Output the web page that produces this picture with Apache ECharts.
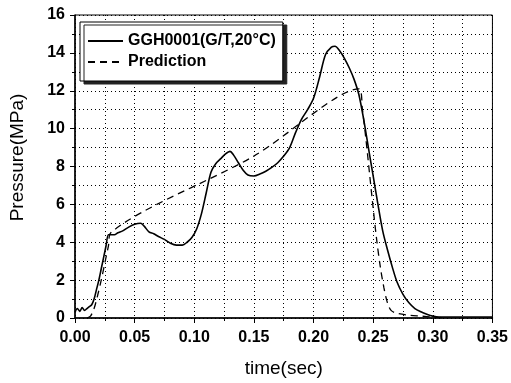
<!DOCTYPE html>
<html>
<head>
<meta charset="utf-8">
<script src="https://cdn.jsdelivr.net/npm/echarts@6/dist/echarts.min.js"></script>
<style>
  html, body { margin: 0; padding: 0; background: #fff; }
  #main { width: 511px; height: 383px; }
</style>
</head>
<body>
<div id="main"></div>
<script>
// measured pressure trace (GGH0001)
var measTime = [0, 0.002, 0.004, 0.006, 0.008, 0.010, 0.012, 0.014, 0.016, 0.018, 0.020, 0.022, 0.024, 0.026, 0.028,
  0.030, 0.033, 0.036, 0.040, 0.045, 0.050, 0.055, 0.058, 0.062, 0.066, 0.070, 0.075, 0.080, 0.085, 0.090,
  0.094, 0.098, 0.102, 0.106, 0.110, 0.114, 0.118, 0.122, 0.126, 0.130, 0.133, 0.137, 0.141, 0.145, 0.150,
  0.155, 0.160, 0.165, 0.170, 0.175, 0.180, 0.185, 0.190, 0.195, 0.200, 0.205, 0.210, 0.215, 0.218, 0.222,
  0.226, 0.230, 0.234, 0.238, 0.242, 0.246, 0.250, 0.254, 0.258, 0.262, 0.266, 0.270, 0.275, 0.280, 0.285,
  0.290, 0.295, 0.300, 0.305, 0.310, 0.320, 0.330, 0.340, 0.350];
var measPressure = [0.3, 0.5, 0.35, 0.55, 0.4, 0.5, 0.6, 0.7, 1.0, 1.5, 2.0, 2.6, 3.2, 3.8, 4.4,
  4.4, 4.4, 4.5, 4.6, 4.8, 4.95, 5.0, 4.85, 4.55, 4.45, 4.3, 4.15, 3.95, 3.85, 3.85,
  4.0, 4.25, 4.7, 5.5, 6.6, 7.7, 8.15, 8.4, 8.65, 8.8, 8.6, 8.2, 7.8, 7.55, 7.5,
  7.6, 7.75, 7.95, 8.2, 8.55, 9.0, 9.8, 10.5, 11.0, 11.6, 12.7, 13.9, 14.3, 14.35, 14.1,
  13.7, 13.2, 12.6, 11.8, 10.5, 9.0, 7.5, 6.0, 4.6, 3.6, 2.7, 1.9, 1.25, 0.8, 0.5,
  0.33, 0.2, 0.1, 0.05, 0.05, 0.05, 0.05, 0.05, 0.05];

// prediction
var predTime = [0.010, 0.013, 0.016, 0.019, 0.022, 0.025, 0.028, 0.030, 0.150, 0.238,
  0.241, 0.244, 0.247, 0.250, 0.253, 0.256, 0.259, 0.262, 0.265, 0.270, 0.280, 0.290, 0.300, 0.310];
var predPressure = [0, 0.1, 0.5, 1.2, 2.0, 2.9, 3.8, 4.5, 8.55, 12.1,
  11.0, 9.4, 7.6, 5.8, 4.1, 2.7, 1.6, 0.8, 0.4, 0.25, 0.15, 0.1, 0.05, 0];

var xTicks = { min: 0, max: 0.35, interval: 0.05 };
var yTicks = { min: 0, max: 16, interval: 2 };

function zip(a, b) {
  return a.map(function (v, i) { return [v, b[i]]; });
}

var chartDom = document.getElementById('main');
var myChart = echarts.init(chartDom);
var option;

var fontFam = 'Liberation Sans, Arial';
var labelFont = { color: '#000', fontFamily: fontFam, fontWeight: 'bold', fontSize: 16 };
var gridLine = { show: true, lineStyle: { color: '#000', type: [1, 3], width: 1 } };

option = {
  animation: false,
  backgroundColor: '#fff',
  grid: {
    left: 74, right: 16, top: 15, bottom: 61,
    show: true, borderColor: '#000', borderWidth: 1
  },
  legend: {
    left: 80, top: 22,
    orient: 'vertical',
    padding: [11, 7, 11, 7],
    itemGap: 5,
    itemWidth: 35,
    itemHeight: 14,
    backgroundColor: '#fff',
    borderColor: '#000',
    borderWidth: 1,
    shadowColor: '#222',
    shadowOffsetX: 4,
    shadowOffsetY: 3,
    shadowBlur: 0,
    itemStyle: { opacity: 0 },
    textStyle: { color: '#000', fontFamily: fontFam, fontWeight: 'bold', fontSize: 16 }
  },
  xAxis: {
    type: 'value',
    min: xTicks.min, max: xTicks.max, interval: xTicks.interval,
    name: 'time(sec)',
    nameLocation: 'middle',
    nameGap: 41,
    nameTextStyle: { color: '#000', fontFamily: fontFam, fontSize: 19 },
    axisLine: { lineStyle: { color: '#000', width: 1.5 } },
    axisTick: { inside: false, length: 5, lineStyle: { color: '#000' } },
    minorTick: { show: true, splitNumber: 2, length: 3, lineStyle: { color: '#000' } },
    axisLabel: Object.assign({ margin: 12, formatter: function (v) { return v.toFixed(2); } }, labelFont),
    splitLine: gridLine,
    minorSplitLine: gridLine
  },
  yAxis: {
    type: 'value',
    min: yTicks.min, max: yTicks.max, interval: yTicks.interval,
    name: 'Pressure(MPa)',
    nameLocation: 'middle',
    nameGap: 48,
    nameTextStyle: { color: '#000', fontFamily: fontFam, fontSize: 19, padding: [0, 0, 0, 18] },
    axisLine: { show: true, lineStyle: { color: '#000', width: 1.5 } },
    axisTick: { show: true, inside: false, length: 5, lineStyle: { color: '#000' } },
    minorTick: { show: true, splitNumber: 2, length: 3, lineStyle: { color: '#000' } },
    axisLabel: Object.assign({ margin: 10 }, labelFont),
    splitLine: gridLine,
    minorSplitLine: gridLine
  },
  series: [
    {
      name: 'GGH0001(G/T,20°C)',
      type: 'line',
      data: zip(measTime, measPressure),
      showSymbol: false,
      symbol: 'none',
      smooth: 0.3,
      color: '#000',
      lineStyle: { color: '#000', width: 1.6 }
    },
    {
      name: 'Prediction',
      type: 'line',
      data: zip(predTime, predPressure),
      showSymbol: false,
      symbol: 'none',
      smooth: 0.3,
      color: '#000',
      lineStyle: { color: '#000', width: 1.3, type: [7, 5] }
    }
  ]
};

option && myChart.setOption(option);
</script>
</body>
</html>
